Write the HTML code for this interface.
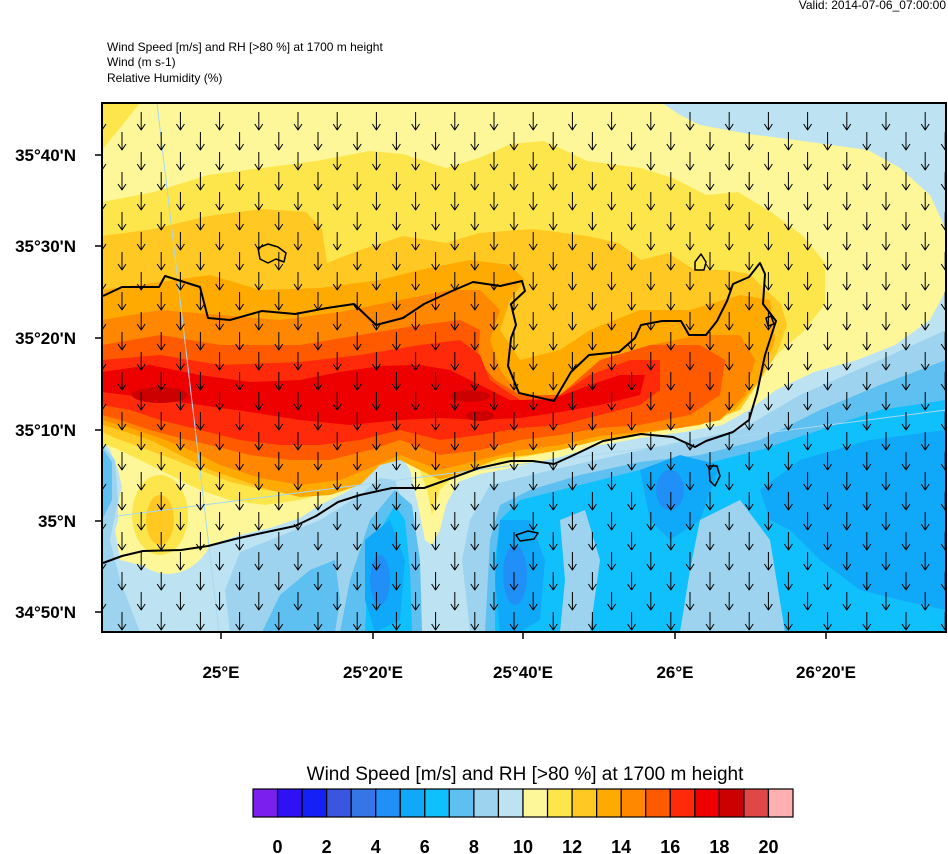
<!DOCTYPE html>
<html><head><meta charset="utf-8"><style>
html,body{margin:0;padding:0;background:#fff;}
body{width:948px;height:854px;overflow:hidden;position:relative;font-family:"Liberation Sans",sans-serif;}
</style></head><body>
<svg id="s" width="948" height="854" viewBox="0 0 948 854" xmlns="http://www.w3.org/2000/svg" style="position:absolute;left:0;top:0">
<defs><clipPath id="cp"><rect x="102" y="103" width="844" height="529"/></clipPath></defs>
<text x="946" y="9" font-size="12" text-anchor="end">Valid: 2014-07-06_07:00:00</text>
<text x="107" y="51" font-size="12">Wind Speed [m/s] and RH [&gt;80 %] at 1700 m height</text>
<text x="107" y="66" font-size="12">Wind   (m s-1)</text>
<text x="107" y="82" font-size="12">Relative Humidity   (%)</text>
<g clip-path="url(#cp)" stroke-linejoin="round">
<rect x="102" y="103" width="844" height="529" fill="#fdf79a"/>
<polygon fill="#bde3f3" points="662,103 946,103 946,230 930,195 900,168 868,150 803,141 749,134 700,125 680,115"/>
<polygon fill="#bde3f3" points="946,290 930,320 895,345 857,360 814,372 776,390 749,410 722,425 684,432 641,438 600,445 560,457 520,466 480,474 458,482 446,505 440,530 432,545 425,540 418,505 410,470 398,452 380,452 365,470 350,490 320,505 300,518 270,528 240,535 210,545 190,553 170,560 140,565 120,560 115,530 125,500 118,470 110,450 102,440 102,632 946,632"/>
<polygon fill="#9dd3ee" points="946,330 880,360 800,395 740,430 650,448 560,468 490,485 470,520 462,560 470,632 946,632"/>
<polygon fill="#9dd3ee" points="415,632 410,560 405,510 395,480 380,478 360,495 320,520 270,540 240,552 225,590 230,632"/>
<polygon fill="#9dd3ee" points="102,445 115,460 118,500 110,540 120,580 140,632 102,632"/>
<polygon fill="#5dc0f0" points="946,360 880,385 820,410 760,440 700,455 640,462 580,475 530,490 500,505 490,540 485,632 946,632"/>
<polygon fill="#5dc0f0" points="340,632 350,580 370,520 395,490 412,505 420,560 422,632"/>
<polygon fill="#5dc0f0" points="102,448 112,462 112,500 102,520"/>
<polygon fill="#5dc0f0" points="262,632 280,595 310,570 335,560 340,600 335,632"/>
<polygon fill="#10c0fd" points="946,400 880,410 820,430 760,450 700,465 640,470 600,480 560,490 520,500 500,520 495,560 495,632 946,632"/>
<polygon fill="#10c0fd" points="365,632 368,570 380,530 395,505 405,520 410,570 412,632"/>
<polygon fill="#9dd3ee" points="700,520 740,500 770,540 785,632 680,632 690,570"/>
<polygon fill="#9dd3ee" points="560,520 585,510 600,560 590,632 560,632 565,580"/>
<polygon fill="#10a8f8" points="946,430 870,440 800,460 760,490 770,520 790,530 820,560 860,590 900,600 946,610"/>
<polygon fill="#10a8f8" points="640,470 680,455 720,465 700,520 670,540 650,520"/>
<polygon fill="#10a8f8" points="500,520 530,520 545,560 540,620 520,632 500,632 495,580"/>
<polygon fill="#10a8f8" points="365,540 390,520 405,560 400,620 375,632 365,600"/>
<ellipse cx="515" cy="575" rx="12" ry="30" fill="#2090f8"/>
<ellipse cx="380" cy="580" rx="10" ry="25" fill="#2090f8"/>
<ellipse cx="670" cy="490" rx="14" ry="20" fill="#2090f8"/>
<ellipse cx="168" cy="512" rx="50" ry="62" fill="#fdf79a"/>
<ellipse cx="160" cy="515" rx="28" ry="40" fill="#fde64b"/>
<ellipse cx="160" cy="520" rx="14" ry="25" fill="#ffc822"/>
<polygon fill="#fde64b" points="102,103 140,103 102,150"/>
<polygon fill="#fde64b" points="102,202 154,192 208,175 262,168 316,161 370,151 403,154 446,168 479,158 511,144 543,141 560,148 587,161 641,168 673,178 706,195 738,192 771,212 803,236 825,263 825,304 803,332 776,355 749,390 722,420 680,428 641,434 600,440 560,450 520,458 480,466 455,474 440,490 432,515 427,490 418,465 405,452 390,448 375,455 360,475 335,490 300,500 265,505 230,500 200,490 170,475 140,460 115,448 102,444"/>
<polygon fill="#ffc822" points="102,236 154,229 208,216 262,209 306,212 322,229 327,263 360,250 403,236 446,243 479,233 533,229 587,236 619,243 641,260 668,253 695,270 727,270 749,274 781,304 787,325 776,355 760,380 740,410 700,425 650,431 600,438 560,447 520,455 480,462 450,470 435,478 420,465 400,455 380,460 360,478 330,490 300,494 265,490 230,482 200,470 170,458 140,447 115,438 102,432"/>
<polygon fill="#ffaa00" points="102,290 160,282 210,275 260,290 320,288 380,280 420,270 470,260 510,265 525,280 510,300 500,330 520,360 560,350 590,330 640,310 690,310 740,295 770,300 775,340 760,380 735,410 700,425 650,432 600,440 560,450 530,455 500,458 470,470 440,480 420,470 400,460 380,465 360,485 330,495 300,497 270,490 240,480 210,470 180,455 150,440 120,430 102,425"/>
<polygon fill="#ff8800" points="102,320 160,310 220,315 280,320 340,312 400,300 450,290 480,290 500,310 490,340 500,370 520,395 560,400 600,370 650,345 700,335 740,335 755,360 745,395 720,420 680,428 640,432 600,436 560,445 520,450 480,460 440,470 400,455 370,468 340,480 300,485 260,478 220,465 190,450 160,438 130,428 102,420"/>
<polygon fill="#ff5a00" points="102,345 160,335 220,345 300,345 360,335 420,325 460,320 480,330 478,360 495,380 520,395 560,395 600,360 650,345 700,345 725,360 720,395 690,415 640,425 600,428 560,435 520,440 480,450 440,455 400,440 370,450 330,460 290,460 250,455 210,445 180,438 150,430 120,420 102,415"/>
<polygon fill="#ff2a0a" points="102,360 160,355 220,365 300,362 360,355 420,345 460,340 480,355 490,380 520,400 555,398 590,375 630,360 660,360 660,390 640,405 600,415 560,425 520,428 480,435 440,440 400,430 360,440 320,445 280,445 240,440 200,430 160,420 130,410 102,405"/>
<polygon fill="#ee0000" points="102,372 150,365 200,375 250,382 300,380 340,372 380,366 420,365 450,370 480,385 510,400 550,400 590,385 620,375 645,375 640,395 600,405 560,412 520,418 480,420 440,418 400,420 350,425 300,420 250,412 200,405 150,398 102,392"/>
<ellipse cx="160" cy="395" rx="28" ry="8" fill="#cc0000"/>
<ellipse cx="470" cy="396" rx="20" ry="6" fill="#cc0000"/>
<ellipse cx="480" cy="416" rx="14" ry="5" fill="#cc0000"/>
<line x1="157" y1="103" x2="219" y2="632" stroke="#a8d8f0" stroke-width="1"/>
<line x1="102" y1="518" x2="946" y2="410" stroke="#a8d8f0" stroke-width="1"/>
<polyline fill="none" stroke="#000" stroke-width="2" points="103,296 122,287 159,287 165,276 181,281 200,287 208,318 230,320 262,311 295,314 327,308 354,304 376,325 403,318 424,304 452,291 473,282 500,286 522,281 525,291 511,304 516,325 511,338 508,366 519,393 554,401 571,372 589,355 619,352 635,338 641,325 662,321 681,321 689,335 706,335 717,321 727,301 733,284 749,277 760,263 765,274 763,304 776,321 765,355 757,393 749,420 733,432 706,441 695,447 673,437 641,434 603,441 576,454 554,464 533,461 511,461 479,468 452,478 424,488 392,488 360,495 338,502 316,516 295,526 262,533 235,539 208,546 181,550 143,551 122,556 103,563"/>
<path fill="none" stroke="#000" stroke-width="1.5" d="M258,248 l10,-4 l10,3 l8,6 l-2,9 l-8,-3 l-8,4 l-8,-4 z M695,262 l6,-8 l5,8 l-2,8 l-9,0 z M709,466 l8,0 l3,10 l-5,10 l-5,-5 z M516,535 l12,-4 l10,2 l-4,6 l-14,2 z M766,318 l5,-2 l3,8 l-6,2 z"/>
<g id="arr" stroke="#000" stroke-width="1" fill="none"></g>
</g>
<rect x="102" y="103" width="844" height="529" fill="none" stroke="#000" stroke-width="2"/>
<g stroke="#000" stroke-width="1.5">
<line x1="95" y1="155" x2="102" y2="155"/><line x1="95" y1="246" x2="102" y2="246"/><line x1="95" y1="338" x2="102" y2="338"/><line x1="95" y1="430" x2="102" y2="430"/><line x1="95" y1="521" x2="102" y2="521"/><line x1="95" y1="612" x2="102" y2="612"/>
<line x1="221" y1="632" x2="221" y2="639"/><line x1="373" y1="632" x2="373" y2="639"/><line x1="523" y1="632" x2="523" y2="639"/><line x1="675" y1="632" x2="675" y2="639"/><line x1="826" y1="632" x2="826" y2="639"/>
</g>
<g font-size="17" font-weight="bold" text-anchor="end">
<text x="76" y="161">35°40'N</text><text x="76" y="252">35°30'N</text><text x="76" y="344">35°20'N</text><text x="76" y="436">35°10'N</text><text x="76" y="527">35°N</text><text x="76" y="618">34°50'N</text>
</g>
<g font-size="17" font-weight="bold" text-anchor="middle">
<text x="221" y="678">25°E</text><text x="373" y="678">25°20'E</text><text x="523" y="678">25°40'E</text><text x="675" y="678">26°E</text><text x="826" y="678">26°20'E</text>
</g>
<text x="525" y="780" font-size="19" text-anchor="middle">Wind Speed [m/s] and RH [&gt;80 %] at 1700 m height</text>
<g id="cb" stroke="#000" stroke-width="1.2"></g>
<g id="cbl" font-size="18" font-weight="bold" text-anchor="middle"></g>
</svg>
<script>
var ns="http://www.w3.org/2000/svg";
var a=document.getElementById("arr"),d="";
for(var r=0;r<27;r++){var y=121+20*r;var x0=(r%2==0)?102:122;for(var x=x0;x<950;x+=39.2){d+="M"+x+","+(y-9)+"V"+(y+9)+"M"+(x-4)+","+(y+3)+"L"+x+","+(y+9)+"L"+(x+4)+","+(y+3);}}
var p=document.createElementNS(ns,"path");p.setAttribute("d",d);a.appendChild(p);
var cols=["#7b1fef","#3010f5","#1420f5","#3a55e0","#3575e5","#2090f8","#10a8f8","#10c0fd","#5dc0f0","#9dd3ee","#bde3f3","#fdf79a","#fde64b","#ffc822","#ffaa00","#ff8800","#ff5a00","#ff2a0a","#ee0000","#cc0000","#e04848","#ffb0b0"];
var cb=document.getElementById("cb"),w=540/22;
for(var i=0;i<22;i++){var rc=document.createElementNS(ns,"rect");rc.setAttribute("x",253+i*w);rc.setAttribute("y",789);rc.setAttribute("width",w);rc.setAttribute("height",28);rc.setAttribute("fill",cols[i]);cb.appendChild(rc);}
var cl=document.getElementById("cbl");
for(var v=0;v<=20;v+=2){var t=document.createElementNS(ns,"text");t.setAttribute("x",253+w*(v+1));t.setAttribute("y",853);t.textContent=v;cl.appendChild(t);}
</script>
</body></html>
